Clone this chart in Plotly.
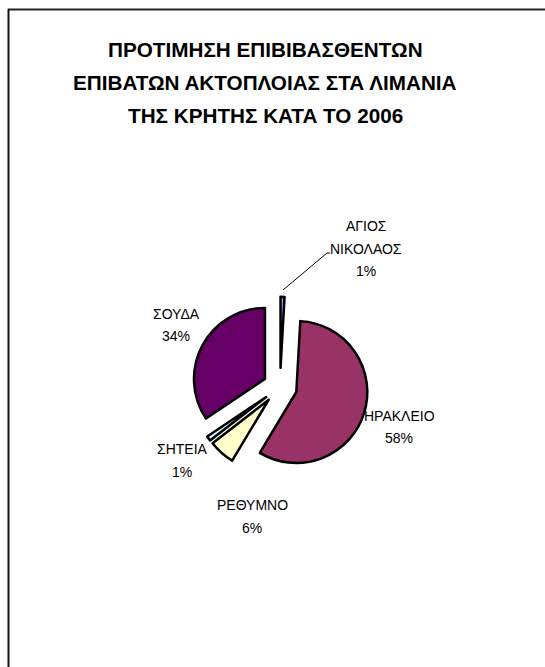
import plotly.graph_objects as go

# ---- data ----
categories = ["ΑΓΙΟΣ ΝΙΚΟΛΑΟΣ", "ΗΡΑΚΛΕΙΟ", "ΡΕΘΥΜΝΟ", "ΣΗΤΕΙΑ", "ΣΟΥΔΑ"]
shares = [0.9, 57.7, 5.9, 1.1, 34.4]
title_lines = ["ΠΡΟΤΙΜΗΣΗ ΕΠΙΒΙΒΑΣΘΕΝΤΩΝ",
               "ΕΠΙΒΑΤΩΝ ΑΚΤΟΠΛΟΙΑΣ ΣΤΑ ΛΙΜΑΝΙΑ",
               "ΤΗΣ ΚΡΗΤΗΣ ΚΑΤΑ ΤΟ 2006"]

# ---- styles / layout ----
slice_colors = ["#9999FF", "#993366", "#FFFFCC", "#CCFFFF", "#660066"]
slice_pull = [0.27, 0.24, 0.24, 0.24, 0.24]
W, H = 545, 667
FONT = "Liberation Sans, Arial, sans-serif"

def px(x):
    return x / W

def py(y):
    return 1 - y / H

# pie placement (pixels)
cx, cy, r = 280, 387, 71
half = r * (1 + max(slice_pull))

fig = go.Figure()
fig.add_trace(go.Pie(
    labels=categories,
    values=shares,
    sort=False,
    direction="clockwise",
    rotation=0,
    pull=slice_pull,
    marker=dict(colors=slice_colors, line=dict(color="black", width=2.5)),
    textinfo="none",
    hoverinfo="label+percent",
    showlegend=False,
    domain=dict(x=[px(cx - half), px(cx + half)],
                y=[py(cy + half), py(cy - half)]),
))

annotations = []
# title
title_y = [50, 83, 115]
for line, ty in zip(title_lines, title_y):
    annotations.append(dict(text=f"<b>{line}</b>", x=px(265), y=py(ty), xref="paper", yref="paper",
                            showarrow=False, xanchor="center", yanchor="middle",
                            font=dict(family=FONT, size=20.7, color="black")))

# data labels (first-line centre in pixels)
label_xy = [(366, 226), (399, 416), (252, 505), (182, 449), (176, 314)]
line_gap = 22.5
total = sum(shares)
for name, v, (lx, ly) in zip(categories, shares, label_xy):
    lines = name.split(" ") + [f"{round(v / total * 100)}%"]
    for i, t in enumerate(lines):
        annotations.append(dict(text=t, x=px(lx), y=py(ly + i * line_gap),
                                xref="paper", yref="paper", showarrow=False,
                                xanchor="center", yanchor="middle",
                                font=dict(family=FONT, size=14, color="black")))

shapes = [
    # chart frame (top and left edges visible)
    dict(type="line", xref="paper", yref="paper", x0=px(8), y0=py(9.5), x1=px(W), y1=py(9.5),
         line=dict(color="#222222", width=2)),
    dict(type="line", xref="paper", yref="paper", x0=px(8.5), y0=py(9), x1=px(8.5), y1=py(H),
         line=dict(color="#111111", width=2)),
    # leader line for the small label
    dict(type="path", xref="paper", yref="paper",
         path=f"M {px(330)},{py(253)} L {px(327)},{py(253)} L {px(283)},{py(290)}",
         line=dict(color="black", width=1)),
]

fig.update_layout(
    width=W, height=H,
    margin=dict(l=0, r=0, t=0, b=0),
    paper_bgcolor="white", plot_bgcolor="white",
    annotations=annotations,
    shapes=shapes,
)

fig.write_html("out.html")
